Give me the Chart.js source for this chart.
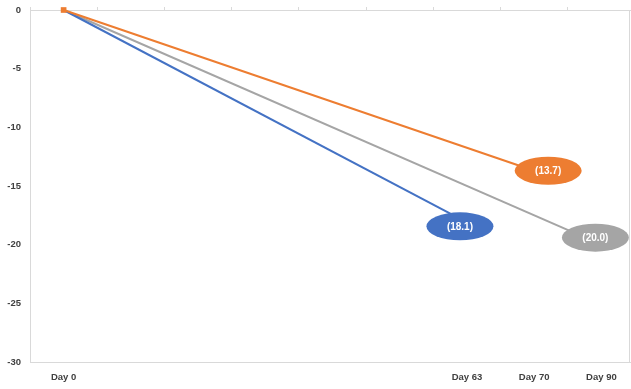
<!DOCTYPE html>
<html>
<head>
<meta charset="utf-8">
<script src="https://cdn.jsdelivr.net/npm/chart.js@4"></script>
<style>
  html, body { margin: 0; padding: 0; background: #ffffff; overflow: hidden; }
  #wrap { width: 631px; height: 389px; overflow: hidden; }
  canvas { display: block; }
</style>
</head>
<body>
<div id="wrap"><canvas id="c" width="639" height="389"></canvas></div>
<script>
// ---- data ----
const categories = ['Day 0', '', '', '', '', '', 'Day 63', 'Day 70', 'Day 90'];
const blueValues   = [0, null, null, null, null, null, -18.1, null, null];
const orangeValues = [0, null, null, null, null, null, null, -13.7, null];
const grayValues   = [0, null, null, null, null, null, null, null, -20.0];
const yTicks = [0, -5, -10, -15, -20, -25, -30];

// ---- styles ----
const BLUE = '#4472C4', ORANGE = '#ED7D31', GRAY = '#A5A5A5';
const AXIS = '#d9d9d9';
const labelOffsets = { blue: [-7, 4], orange: [14, 0], gray: [-6, -7] };

const ellipseLabels = {
  id: 'ellipseLabels',
  afterDatasetsDraw(chart) {
    const ctx = chart.ctx;
    chart.data.datasets.forEach((ds, i) => {
      const meta = chart.getDatasetMeta(i);
      let last = -1;
      ds.data.forEach((v, j) => { if (v !== null) last = j; });
      if (last <= 0) return;
      const el = meta.data[last];
      const off = labelOffsets[ds.key] || [0, 0];
      const cx = el.x + off[0], cy = el.y + off[1];
      ctx.save();
      ctx.beginPath();
      ctx.ellipse(cx, cy, 33.5, 14, 0, 0, Math.PI * 2);
      ctx.fillStyle = ds.borderColor;
      ctx.fill();
      ctx.fillStyle = '#ffffff';
      ctx.font = 'bold 10px "Liberation Sans", Arial, sans-serif';
      ctx.textAlign = 'center';
      ctx.textBaseline = 'middle';
      ctx.fillText('(' + Math.abs(ds.data[last]).toFixed(1) + ')', cx, cy + 0.5);
      ctx.restore();
    });
  }
};

const rightBorder = {
  id: 'rightBorder',
  beforeDatasetsDraw(chart) {
    const a = chart.chartArea, ctx = chart.ctx;
    const x = 629.5;
    ctx.save();
    ctx.strokeStyle = AXIS;
    ctx.lineWidth = 1;
    ctx.beginPath();
    ctx.moveTo(x, a.top);
    ctx.lineTo(x, a.bottom);
    ctx.stroke();
    ctx.restore();
  }
};

const xFont = { family: '"Liberation Sans", Arial, sans-serif', size: 9.5, weight: 'bold' };
const yFont = { family: '"Liberation Sans", Arial, sans-serif', size: 9.5, weight: 'bold' };

function makeDs(key, data, color) {
  return {
    key, data,
    borderColor: color,
    backgroundColor: color,
    borderWidth: 2,
    spanGaps: true,
    tension: 0,
    clip: false,
    pointStyle: 'rect',
    pointRadius: (c) => (key === 'orange' && c.dataIndex === 0) ? 4 : 0,
    pointHoverRadius: 0,
    pointBorderWidth: 0
  };
}

function noPad(s) { s.paddingTop = 0; s.paddingBottom = 0; s.paddingLeft = 0; s.paddingRight = 0; }

new Chart(document.getElementById('c'), {
  type: 'line',
  data: {
    labels: categories,
    datasets: [
      makeDs('orange', orangeValues, ORANGE),
      makeDs('blue', blueValues, BLUE),
      makeDs('gray', grayValues, GRAY)
    ]
  },
  options: {
    responsive: false,
    animation: false,
    events: [],
    layout: { padding: 0 },
    plugins: { legend: { display: false }, tooltip: { enabled: false } },
    scales: {
      x: {
        type: 'category',
        position: 'bottom',
        offset: true,
        grid: { display: false, drawTicks: false },
        border: { display: true, color: AXIS, width: 1 },
        ticks: { autoSkip: false, maxRotation: 0, minRotation: 0, padding: 10, color: '#404040', font: xFont },
        afterFit(s) { s.height = 27; noPad(s); }
      },
      x2: {
        type: 'category',
        position: 'top',
        labels: categories,
        offset: true,
        grid: { display: true, drawOnChartArea: false, offset: true, tickLength: 3, color: AXIS },
        border: { display: true, color: AXIS, width: 1 },
        ticks: { display: false },
        afterFit(s) { s.height = 10; noPad(s); }
      },
      y: {
        min: Math.min(...yTicks),
        max: Math.max(...yTicks),
        afterBuildTicks(s) { s.ticks = yTicks.map(v => ({ value: v })); },
        grid: { display: false, drawTicks: false },
        border: { display: true, color: AXIS, width: 1 },
        ticks: { padding: 9, color: '#404040', font: yFont },
        afterFit(s) { s.width = 30; noPad(s); }
      }
    }
  },
  plugins: [rightBorder, ellipseLabels]
});
</script>
</body>
</html>
